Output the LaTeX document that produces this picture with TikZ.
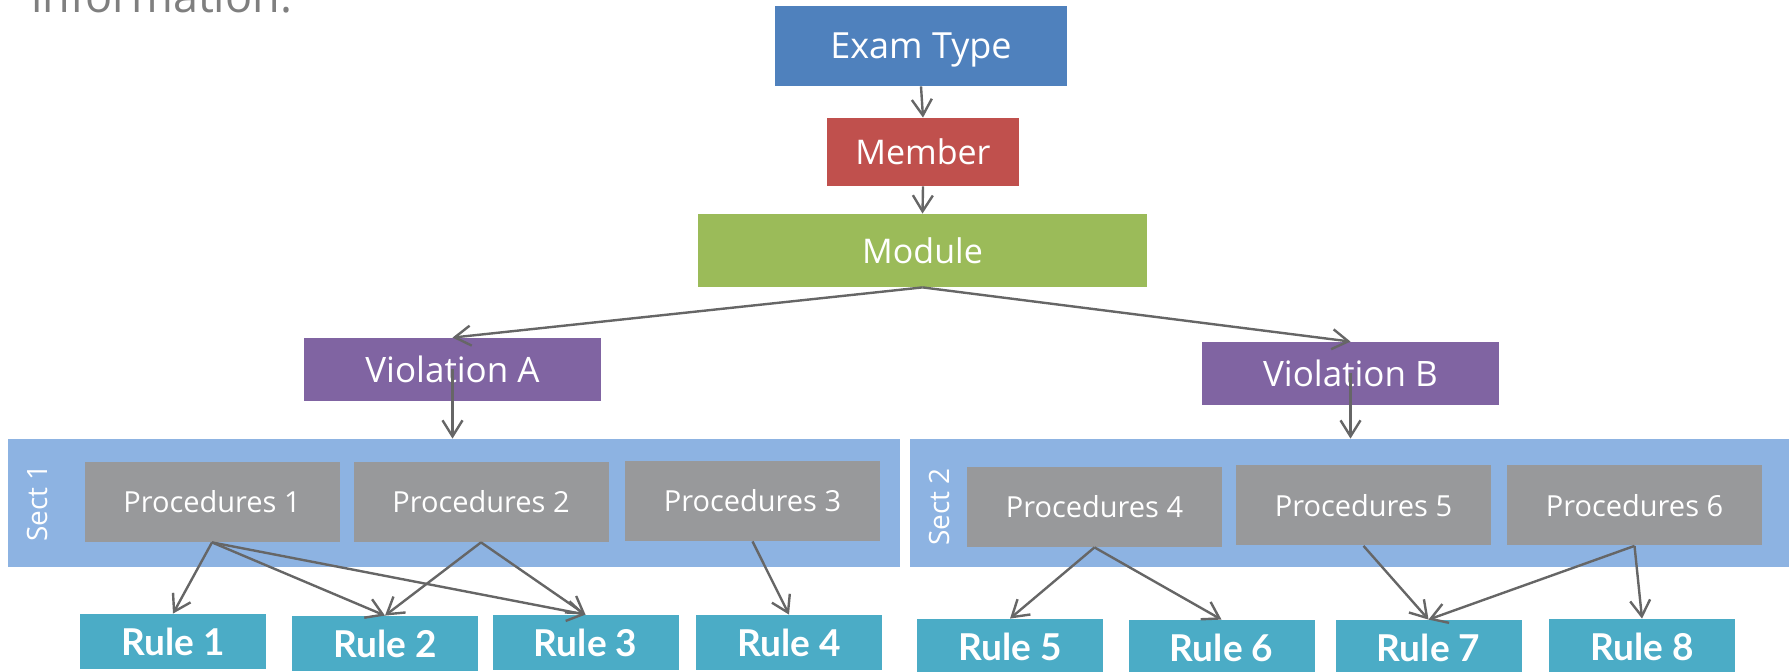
\documentclass[tikz,border=0pt]{standalone}
\usepackage{fontspec}
\setmainfont{Open Sans}
\newfontfamily\rulefont{Lato}
\usetikzlibrary{arrows.meta}

\definecolor{examblue}{HTML}{4F81BD}
\definecolor{memberred}{HTML}{C0504D}
\definecolor{modgreen}{HTML}{9BBB59}
\definecolor{violpurple}{HTML}{8064A2}
\definecolor{sectblue}{HTML}{8DB3E2}
\definecolor{procgray}{HTML}{98999B}
\definecolor{ruleteal}{HTML}{4BACC6}
\definecolor{linkgray}{HTML}{666666}
\definecolor{headgray}{HTML}{7F7F7F}

\tikzset{
  box/.style={rectangle, inner sep=0pt, text=white},
  topbox/.style={box, font=\fontsize{17}{20}\selectfont},
  procbox/.style={box, fill=procgray, minimum width=127.5pt, minimum height=40pt,
                  font=\fontsize{14.5}{17}\selectfont},
  rulebox/.style={box, fill=ruleteal, minimum width=93pt, minimum height=27.5pt,
                  font=\rulefont\bfseries\fontsize{18.5}{22}\selectfont},
  sectbox/.style={box, fill=sectblue, minimum height=64pt},
  sectlabel/.style={rotate=90, text=white, inner sep=0pt, font=\fontsize{14}{16}\selectfont},
  link/.style={draw=linkgray, line width=1.2pt, -{Straight Barb[length=8pt,width=10pt]}}
}

\begin{document}
\begin{tikzpicture}[x=0.5pt, y=-0.5pt]
  \useasboundingbox (0,0) rectangle (1791,672);
  \clip (0,0) rectangle (1791,672);

  % heading line running off the top edge
  \node[anchor=base west, inner sep=0pt, text=headgray,
        font=\fontsize{22.5}{26}\selectfont] (heading) at (31,13) {information.};

  % top of the hierarchy
  \node[topbox, fill=examblue, minimum width=146pt, minimum height=40pt, text depth=0pt,
        font=\fontsize{18}{21}\selectfont] (exam) at (921,46) {Exam Type};
  \node[topbox, fill=memberred, minimum width=96pt, minimum height=34pt] (member) at (923,152) {Member};
  \node[topbox, fill=modgreen, minimum width=224.5pt, minimum height=36.5pt] (module) at (922.5,250.5) {Module};

  % violations
  \node[topbox, fill=violpurple, minimum width=148.5pt, minimum height=31.5pt,
        font=\fontsize{17.5}{20}\selectfont] (violA) at (452.5,369.5) {Violation A};
  \node[topbox, fill=violpurple, minimum width=148.5pt, minimum height=31.5pt,
        font=\fontsize{17.5}{20}\selectfont] (violB) at (1350.5,373.5) {Violation B};

  % sections
  \node[sectbox, minimum width=446pt] (sect1) at (454,503) {};
  \node[sectbox, minimum width=439.5pt] (sect2) at (1349.5,503) {};
  \node[sectlabel] (sect1lbl) at (37,503) {Sect 1};
  \node[sectlabel] (sect2lbl) at (939,507) {Sect 2};

  % procedures
  \node[procbox] (p1) at (212,502) {Procedures 1};
  \node[procbox] (p2) at (481,502) {Procedures 2};
  \node[procbox] (p3) at (752.5,501) {Procedures 3};
  \node[procbox] (p4) at (1094.5,507) {Procedures 4};
  \node[procbox] (p5) at (1363.5,505.5) {Procedures 5};
  \node[procbox] (p6) at (1634.5,505.5) {Procedures 6};

  % rules
  \node[rulebox] (r1) at (173,641.5) {Rule 1};
  \node[rulebox] (r2) at (385,643.5) {Rule 2};
  \node[rulebox] (r3) at (585.5,642.5) {Rule 3};
  \node[rulebox] (r4) at (789,642.5) {Rule 4};
  \node[rulebox] (r5) at (1010,646.5) {Rule 5};
  \node[rulebox] (r6) at (1221.5,647.5) {Rule 6};
  \node[rulebox] (r7) at (1428.5,647.5) {Rule 7};
  \node[rulebox] (r8) at (1642,646.5) {Rule 8};

  % connectors
  \draw[link] (exam.south) -- (member.north);
  \draw[link] (member.south) -- (module.north);
  \draw[link] (module.south) -- (violA.north);
  \draw[link] (module.south) -- (violB.north);
  \draw[link] (violA.center) -- (violA.center |- sect1.north);
  \draw[link] (violB.center) -- (violB.center |- sect2.north);

  \draw[link] (p1.south) -- (r1.north);
  \draw[link] (p1.south) -- (r2.north);
  \draw[link] (p1.south) -- (r3.north);
  \draw[link] (p2.south) -- (r2.north);
  \draw[link] (p2.south) -- (r3.north);
  \draw[link] (p3.south) -- (r4.north);

  \draw[link] (p4.south) -- (r5.north);
  \draw[link] (p4.south) -- (r6.north);
  \draw[link] (p5.south) -- (r7.north);
  \draw[link] (p6.south) -- (r7.north);
  \draw[link] (p6.south) -- (r8.north);
\end{tikzpicture}
\end{document}
